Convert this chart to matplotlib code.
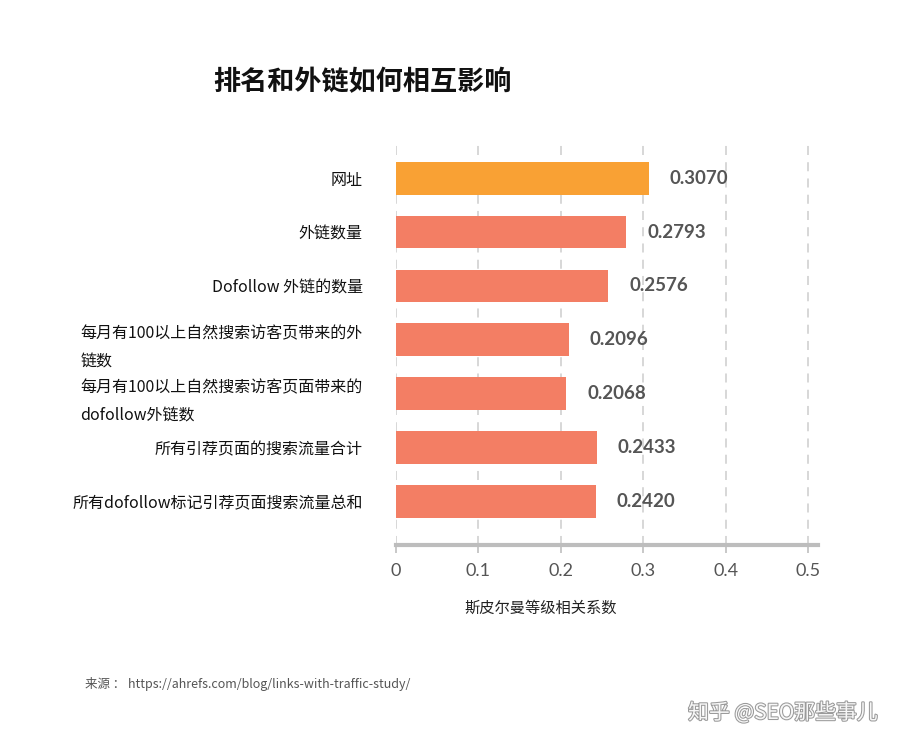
import matplotlib.pyplot as plt
from matplotlib import patheffects as pe

# 数据
labels = ["网址", "外链数量", "Dofollow 外链的数量",
          "每月有100以上自然搜索访客页带来的外\n链数",
          "每月有100以上自然搜索访客页面带来的\ndofollow外链数",
          "所有引荐页面的搜索流量合计",
          "所有dofollow标记引荐页面搜索流量总和"]
values = [0.3070, 0.2793, 0.2576, 0.2096, 0.2068, 0.2433, 0.2420]
value_text = ["0.3070", "0.2793", "0.2576", "0.2096", "0.2068", "0.2433", "0.2420"]
xticks = [0, 0.1, 0.2, 0.3, 0.4, 0.5]
xtick_labels = ["0", "0.1", "0.2", "0.3", "0.4", "0.5"]

cjk = ['Noto Sans CJK SC', 'DejaVu Sans']
plt.rcParams['font.family'] = cjk

fig = plt.figure(figsize=(9, 7.51), dpi=100, facecolor='w')
ax = fig.add_axes([0.44, 0.2743, 0.469, 0.5353])

colors = ['#F9A134'] + ['#F37E64'] * (len(values) - 1)
y = list(range(len(values)))
ax.barh(y, values, height=0.61, color=colors, zorder=3)

# 数值标签
for i, v in enumerate(values):
    ax.annotate(value_text[i], (v, i), xytext=(15, 0), textcoords='offset points',
                va='center', ha='left', fontsize=13.5, fontweight='bold',
                color='#555555', family=['Lato', 'DejaVu Sans'])

ax.set_ylim(6.8, -0.65)
ax.set_xlim(0, 0.512)
ax.set_yticks(y)
ax.set_yticklabels(labels, fontsize=11.5, color='#111111', linespacing=1.9,
                   multialignment='left')
ax.tick_params(axis='y', length=0, pad=24)

ax.set_xticks(xticks)
ax.set_xticklabels(xtick_labels, fontsize=13, color='#555555',
                   family=['Lato', 'DejaVu Sans'])
ax.tick_params(axis='x', length=6, width=1.3, color='#c4c4c4', pad=7)

ax.grid(axis='x', linestyle=(0, (5, 4)), color='#d4d4d4', linewidth=1.3, zorder=0)
for s in ['top', 'right', 'left']:
    ax.spines[s].set_visible(False)
ax.spines['bottom'].set_color('#bdbdbd')
ax.spines['bottom'].set_linewidth(3)

fig.text(213 / 900, 1 - 82 / 751, "排名和外链如何相互影响", fontsize=19.5,
         fontweight='bold', color='#111111', va='center', ha='left')
fig.text(541 / 900, 1 - 608 / 751, "斯皮尔曼等级相关系数", fontsize=11,
         color='#222222', va='center', ha='center')
fig.text(85 / 900, 1 - 684 / 751,
         "来源 ： https://ahrefs.com/blog/links-with-traffic-study/",
         fontsize=9, color='#555555', va='center', ha='left')
fig.text(878 / 900, 1 - 713 / 751, "知乎 @SEO那些事儿", fontsize=15,
         color='#f7f7f7', va='center', ha='right',
         path_effects=[pe.withStroke(linewidth=1.5, foreground='#9a9a9a')])

plt.savefig('out.png', dpi=100, facecolor='w')
